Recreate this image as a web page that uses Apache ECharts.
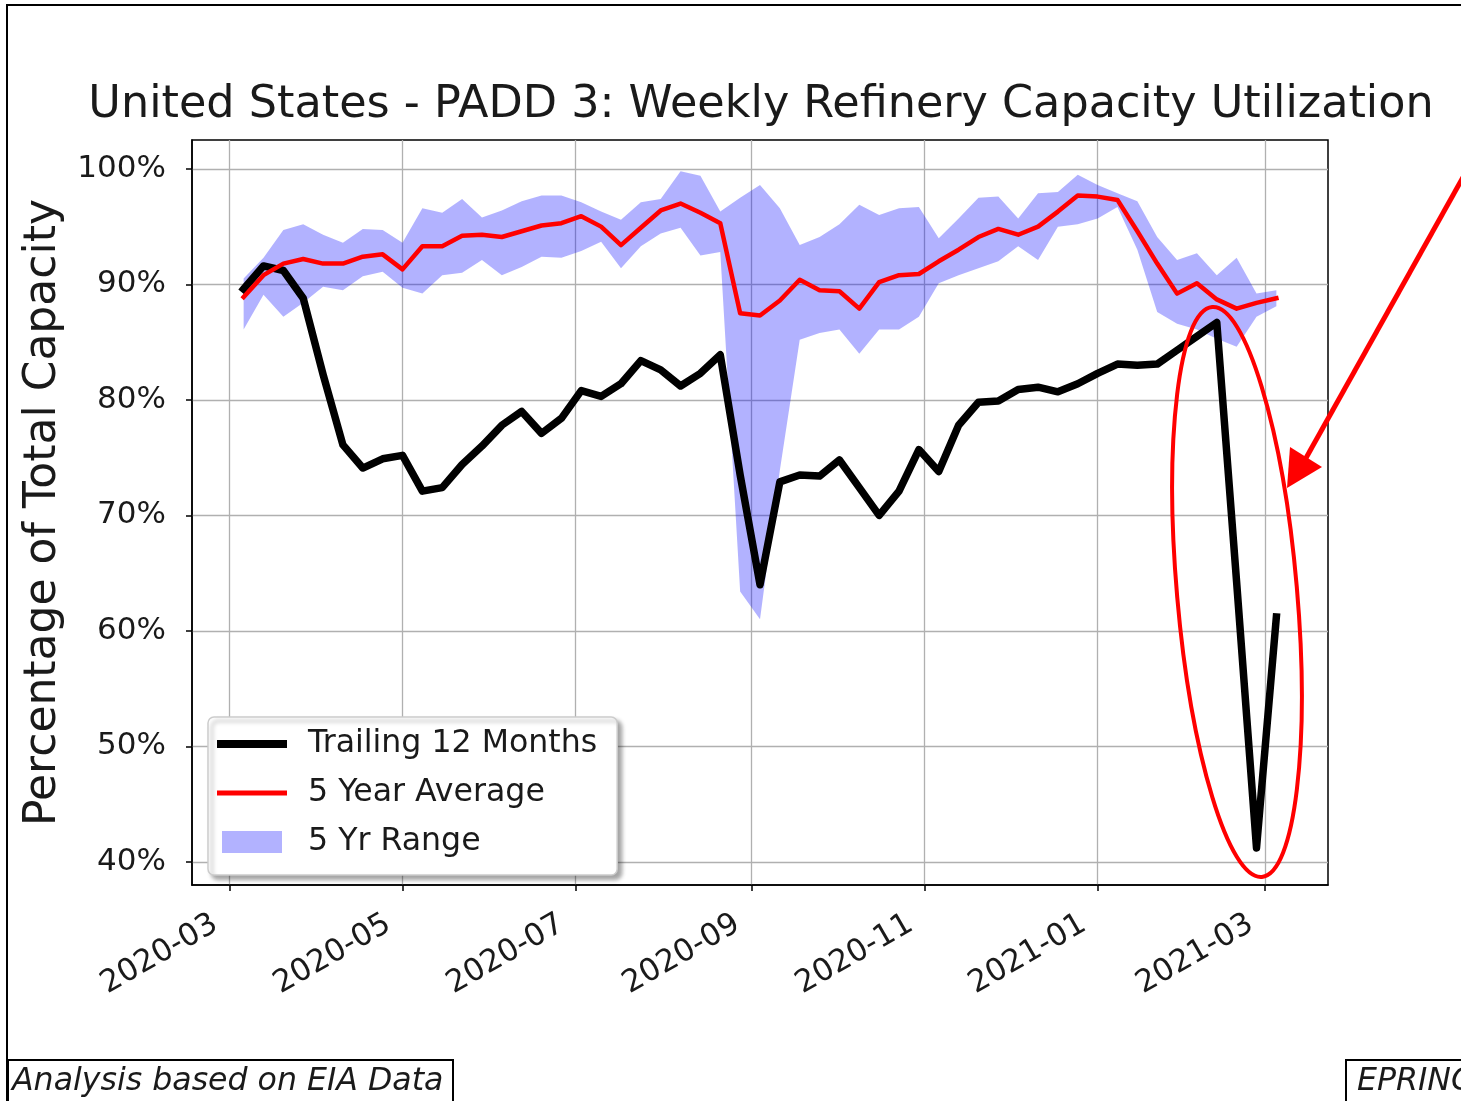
<!DOCTYPE html>
<html><head><meta charset="utf-8">
<script src="https://cdn.jsdelivr.net/npm/echarts@6/dist/echarts.min.js"></script>
<style>html,body{margin:0;padding:0;background:#fff}#c{width:1461px;height:1101px}</style>
</head><body><div id="c"></div>
<script>
const weeks = ['2020-03-06','2020-03-13','2020-03-20','2020-03-27','2020-04-03','2020-04-10','2020-04-17','2020-04-24',
  '2020-05-01','2020-05-08','2020-05-15','2020-05-22','2020-05-29','2020-06-05','2020-06-12','2020-06-19','2020-06-26',
  '2020-07-03','2020-07-10','2020-07-17','2020-07-24','2020-07-31','2020-08-07','2020-08-14','2020-08-21','2020-08-28',
  '2020-09-04','2020-09-11','2020-09-18','2020-09-25','2020-10-02','2020-10-09','2020-10-16','2020-10-23','2020-10-30',
  '2020-11-06','2020-11-13','2020-11-20','2020-11-27','2020-12-04','2020-12-11','2020-12-18','2020-12-25','2021-01-01',
  '2021-01-08','2021-01-15','2021-01-22','2021-01-29','2021-02-05','2021-02-12','2021-02-19','2021-02-26','2021-03-05'];
const trailing12 = [89.6,91.6,91.2,88.8,82.2,76.1,74.1,74.9,75.2,72.1,72.4,74.4,76.0,77.8,79.0,77.1,78.4,80.8,80.3,81.4,
  83.4,82.6,81.2,82.3,83.9,73.5,64.0,72.9,73.5,73.4,74.8,72.4,70.0,72.1,75.7,73.8,77.8,79.8,79.9,80.9,
  81.1,80.7,81.4,82.3,83.1,83.0,83.1,84.3,85.5,86.7,64.2,41.2,61.2];
const avg5yr = [88.9,90.8,91.8,92.2,91.8,91.8,92.4,92.6,91.3,93.3,93.3,94.2,94.3,94.1,94.6,95.1,95.3,95.9,95.0,93.4,
  94.9,96.4,97.0,96.2,95.3,87.5,87.3,88.6,90.4,89.5,89.4,87.9,90.2,90.8,90.9,92.0,93.0,94.1,94.8,94.3,
  95.0,96.3,97.7,97.6,97.3,94.6,91.8,89.2,90.1,88.7,87.9,88.4,88.8];
const rangeHigh = [90.5,92.3,94.7,95.2,94.3,93.6,94.8,94.7,93.6,96.6,96.2,97.4,95.8,96.4,97.2,97.7,97.7,97.1,96.3,95.6,
  97.1,97.4,99.8,99.4,96.3,97.5,98.6,96.6,93.4,94.1,95.2,96.9,96.0,96.6,96.7,94.0,95.7,97.5,97.6,95.7,
  97.9,98.0,99.5,98.6,97.9,97.2,94.1,92.1,92.7,90.8,92.3,89.2,89.5];
const rangeLow = [86.1,89.1,87.2,88.4,89.8,89.5,90.7,91.1,89.7,89.2,90.8,91.0,92.1,90.8,91.5,92.4,92.3,92.9,93.7,91.4,
  93.3,94.4,94.9,92.5,92.8,63.4,61.0,73.9,85.2,85.8,86.1,84.0,86.1,86.1,87.2,90.1,90.8,91.4,92.0,93.3,
  92.1,95.0,95.2,95.7,96.7,93.0,87.6,86.6,86.1,85.3,84.6,87.2,88.1];
const monthTicks = ['2020-03-01','2020-05-01','2020-07-01','2020-09-01','2020-11-01','2021-01-01','2021-03-01'];
const monthLabels = ['2020-03','2020-05','2020-07','2020-09','2020-11','2021-01','2021-03'];
const yTicks = [40,50,60,70,80,90,100];

function toTime(s){ const p = s.split('-').map(Number); return Date.UTC(p[0], p[1]-1, p[2]); }
const DAY = 86400000;
const tickTimes = monthTicks.map(toTime);
const weekTimes = weeks.map(toTime);
const xMin = weekTimes[0] - 18.2*DAY;
const xMax = weekTimes[weekTimes.length-1] + 18.2*DAY;
const FONT = 'DejaVu Sans';
const TXT = '#1a1a1a';
const BAND = 'rgba(0,0,255,0.3)';

function renderBand(params, api) {
  if (params.dataIndex !== 0) return null;
  const pts = [];
  for (let i = 0; i < weekTimes.length; i++) pts.push(api.coord([weekTimes[i], rangeHigh[i]]));
  for (let i = weekTimes.length - 1; i >= 0; i--) pts.push(api.coord([weekTimes[i], rangeLow[i]]));
  return {type: 'polygon', shape: {points: pts}, style: {fill: BAND}};
}

const chart = echarts.init(document.getElementById('c'), null, {renderer:'canvas'});
chart.setOption({
  animation: false,
  backgroundColor: '#fff',
  textStyle: {fontFamily: FONT},
  title: {
    text: 'United States - PADD 3: Weekly Refinery Capacity Utilization',
    left: 756, top: 78, textAlign: 'center',
    textStyle: {fontSize: 44.5, fontWeight: 'normal', color: TXT, fontFamily: FONT}
  },
  grid: {left: 192, right: 133, top: 140, bottom: 216, show: true, borderColor: '#000', borderWidth: 1.5,
         backgroundColor: 'transparent', containLabel: false, outerBoundsMode: 'none'},
  legend: {
    orient: 'vertical', left: 208, top: 717, selectedMode: false,
    data: [
      {name: 'Trailing 12 Months', icon: 'path://M0,0H70V8H0Z', itemStyle: {color: '#000'}},
      {name: '5 Year Average', icon: 'path://M0,0H70V5H0Z', itemStyle: {color: '#ff0000'}},
      {name: '5 Yr Range', icon: 'path://M0,0H60V22H0Z', itemStyle: {color: BAND}}
    ],
    itemWidth: 70, itemHeight: 22, itemGap: 17,
    itemStyle: {borderWidth: 0},
    textStyle: {fontSize: 31.6, color: TXT, fontFamily: FONT, padding: [0,0,0,16]},
    padding: [11, 20, 17, 9],
    backgroundColor: '#fff', borderColor: '#cccccc', borderWidth: 1.5, borderRadius: 6,
    shadowColor: 'rgba(0,0,0,0.35)', shadowBlur: 4, shadowOffsetX: 4, shadowOffsetY: 4
  },
  xAxis: {
    type: 'value', min: xMin, max: xMax,
    axisLine: {show: true, onZero: false, lineStyle: {color: '#000', width: 1.5}},
    axisTick: {show: true, length: 6, customValues: tickTimes, lineStyle: {color: '#000', width: 1.5}},
    axisLabel: {
      customValues: tickTimes, rotate: 30, fontSize: 31, color: TXT, fontFamily: FONT, margin: 29,
      padding: [0, 16, 0, 0], hideOverlap: false,
      formatter: function (v) { const i = tickTimes.indexOf(v); return i >= 0 ? monthLabels[i] : ''; }
    },
    splitLine: {show: true, lineStyle: {color: '#b0b0b0', width: 1.3}}
  },
  yAxis: {
    type: 'value', min: 38, max: 102.5,
    name: 'Percentage of Total Capacity', nameLocation: 'middle', nameGap: 126,
    nameTextStyle: {fontSize: 44, color: TXT, fontFamily: FONT},
    axisLine: {show: true, lineStyle: {color: '#000', width: 1.5}},
    axisTick: {show: true, length: 6, customValues: yTicks, lineStyle: {color: '#000', width: 1.5}},
    axisLabel: {customValues: yTicks, fontSize: 31, color: TXT, fontFamily: FONT, margin: 26,
      formatter: function (v) { return v + '%'; }},
    splitLine: {show: true, lineStyle: {color: '#b0b0b0', width: 1.3}}
  },
  series: [
    {name: '5 Yr Range', type: 'custom', silent: true, color: BAND, itemStyle: {color: BAND},
     renderItem: renderBand, encode: {x: 0, y: [1, 2]},
     data: weekTimes.map((w, i) => [w, rangeLow[i], rangeHigh[i]])},
    {name: 'Trailing 12 Months', type: 'line', symbol: 'none', color: '#000',
     data: weekTimes.map((w, i) => [w, trailing12[i]]), lineStyle: {width: 7.5, join: 'round', cap: 'square'}},
    {name: '5 Year Average', type: 'line', symbol: 'none', color: '#ff0000',
     data: weekTimes.map((w, i) => [w, avg5yr[i]]), lineStyle: {width: 4.5, join: 'round', cap: 'square'}}
  ],
  graphic: [
    {type: 'rect', silent: true, shape: {x: 7, y: 5, width: 1480, height: 1120}, style: {fill: 'none', stroke: '#000', lineWidth: 2}},
    {type: 'ellipse', silent: true, x: 1237, y: 592, rotation: 0.087, shape: {cx: 0, cy: 0, rx: 60, ry: 286},
     style: {fill: 'none', stroke: '#ff0000', lineWidth: 4}, z: 100},
    {type: 'line', silent: true, shape: {x1: 1306, y1: 458, x2: 1480, y2: 147}, style: {stroke: '#ff0000', lineWidth: 5}, z: 100},
    {type: 'polygon', silent: true, shape: {points: [[1287, 488], [1290, 447], [1322, 467]]}, style: {fill: '#ff0000'}, z: 100},
    {type: 'rect', silent: true, shape: {x: 8, y: 1060, width: 445, height: 60}, style: {fill: '#fff', stroke: '#000', lineWidth: 2}, z: 100},
    {type: 'text', silent: true, x: 12, y: 1082, style: {text: 'Analysis based on EIA Data', font: 'italic 31.6px "DejaVu Sans"', fill: TXT, verticalAlign: 'middle'}, z: 101},
    {type: 'rect', silent: true, shape: {x: 1346, y: 1060, width: 200, height: 60}, style: {fill: '#fff', stroke: '#000', lineWidth: 2}, z: 100},
    {type: 'text', silent: true, x: 1357, y: 1082, style: {text: 'EPRINC', font: 'italic 31.6px "DejaVu Sans"', fill: TXT, verticalAlign: 'middle'}, z: 101}
  ]
});
</script></body></html>
